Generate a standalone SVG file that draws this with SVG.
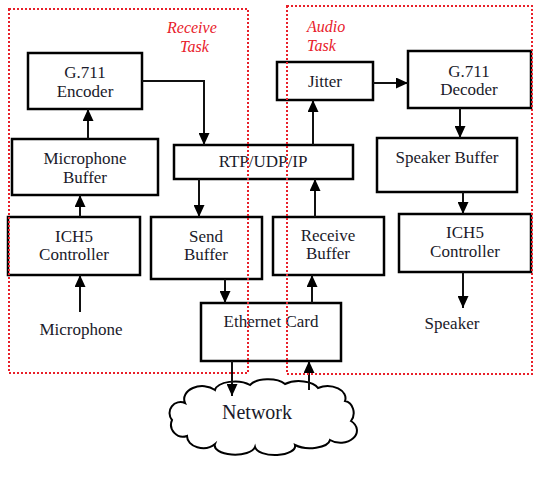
<svg xmlns="http://www.w3.org/2000/svg" width="555" height="480" viewBox="0 0 555 480">
<defs>
<marker id="ah" viewBox="0 0 12 11" refX="12" refY="5.5" markerWidth="12" markerHeight="11" markerUnits="userSpaceOnUse" orient="auto">
<path d="M0,0 L12,5.5 L0,11 z" fill="#000"/>
</marker>
<style>
.box{fill:#fff;stroke:#000;stroke-width:2.5}
.t{font-family:"Liberation Serif","DejaVu Serif","Times New Roman",serif;font-size:17px;fill:#1a1a2a;text-anchor:middle}
.big{font-size:20px}
.task{font-family:"Liberation Serif","DejaVu Serif","Times New Roman",serif;font-size:16px;font-style:italic;fill:#e8202a}
.red{fill:none;stroke:#e8202a;stroke-width:2;stroke-dasharray:2 2}
.c{fill:none;stroke:#111;stroke-width:2;marker-end:url(#ah)}
</style>
</defs>
<rect width="555" height="480" fill="#fff"/>

<g id="network">
<path d="M185 403 A18 13 0 0 1 215 390 A20 10 0 0 1 250 385 A20 10 0 0 1 285 384 A20 10 0 0 1 318 388 A18 12 0 0 1 345 401 A10 12 0 0 1 351 421 A16 12 0 0 1 330 440 A20 9 0 0 1 295 445 A20 9 0 0 1 255 447 A20 9 0 0 1 215 444 A16 12 0 0 1 187 436 A12 12 0 0 1 172 420 A11 11 0 0 1 185 403 Z" fill="#fff" stroke="#000" stroke-width="2"/>
<text class="t big" x="257" y="419">Network</text>
</g>

<g id="encoder"><rect class="box" x="28" y="53" width="114" height="56"/><text class="t" x="85" y="78">G.711</text><text class="t" x="85" y="97">Encoder</text></g>
<g id="micbuffer"><rect class="box" x="12" y="139" width="146" height="56"/><text class="t" x="85" y="164">Microphone</text><text class="t" x="85" y="183">Buffer</text></g>
<g id="ich5left"><rect class="box" x="8" y="217" width="132" height="58"/><text class="t" x="74" y="242">ICH5</text><text class="t" x="74" y="260">Controller</text></g>
<g id="microphone"><text class="t" x="81" y="335">Microphone</text></g>
<g id="rtp"><rect class="box" x="174" y="145" width="179" height="34"/><text class="t" x="263" y="167">RTP/UDP/IP</text></g>
<g id="sendbuffer"><rect class="box" x="151" y="217" width="111" height="62"/><text class="t" x="206" y="242">Send</text><text class="t" x="206" y="260">Buffer</text></g>
<g id="ethernet"><rect class="box" x="201" y="303" width="140" height="58"/><text class="t" x="271" y="327">Ethernet Card</text></g>
<g id="recvbuffer"><rect class="box" x="273" y="217" width="111" height="58"/><text class="t" x="328" y="241">Receive</text><text class="t" x="328" y="259">Buffer</text></g>
<g id="jitter"><rect class="box" x="277" y="62" width="96" height="38"/><text class="t" x="325" y="87">Jitter</text></g>
<g id="decoder"><rect class="box" x="408" y="51" width="123" height="57"/><text class="t" x="469" y="77">G.711</text><text class="t" x="469" y="95">Decoder</text></g>
<g id="spkbuffer"><rect class="box" x="377" y="138" width="140" height="54"/><text class="t" x="447" y="163">Speaker Buffer</text></g>
<g id="ich5right"><rect class="box" x="399" y="214" width="132" height="58"/><text class="t" x="465" y="238">ICH5</text><text class="t" x="465" y="257">Controller</text></g>
<g id="speaker"><text class="t" x="452" y="329">Speaker</text></g>

<g id="connectors">
<line class="c" x1="80" y1="312" x2="80" y2="275"/>
<line class="c" x1="80" y1="217" x2="80" y2="195"/>
<line class="c" x1="88" y1="139" x2="88" y2="109"/>
<polyline class="c" points="142,81 204,81 204,145"/>
<line class="c" x1="199" y1="179" x2="199" y2="217"/>
<line class="c" x1="225" y1="279" x2="225" y2="303"/>
<line class="c" x1="232" y1="361" x2="232" y2="396"/>
<line class="c" x1="309" y1="390" x2="309" y2="361"/>
<line class="c" x1="312" y1="303" x2="312" y2="275"/>
<line class="c" x1="315" y1="217" x2="315" y2="179"/>
<line class="c" x1="313" y1="145" x2="313" y2="100"/>
<line class="c" x1="373" y1="83" x2="408" y2="83"/>
<line class="c" x1="460" y1="108" x2="460" y2="138"/>
<line class="c" x1="463" y1="192" x2="463" y2="214"/>
<line class="c" x1="463" y1="272" x2="463" y2="308"/>
</g>

<g id="receive-task">
<rect class="red" x="9" y="9" width="239" height="364"/>
<text class="task" x="167" y="33">Receive</text>
<text class="task" x="180" y="52">Task</text>
</g>
<g id="audio-task">
<rect class="red" x="287" y="6" width="245" height="368"/>
<text class="task" x="307" y="32">Audio</text>
<text class="task" x="307" y="51">Task</text>
</g>
</svg>
